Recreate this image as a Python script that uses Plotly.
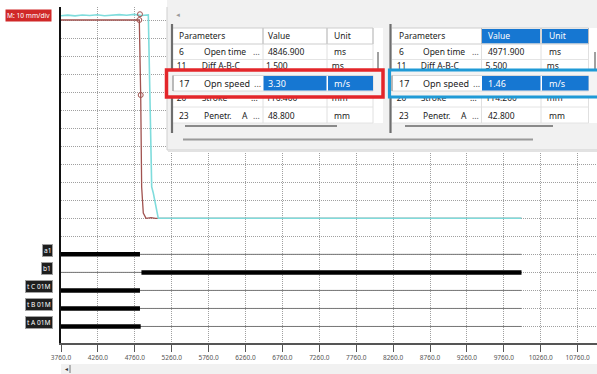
import plotly.graph_objects as go

# ---------------- data ----------------
x_ticks = [3760, 4260, 4760, 5260, 5760, 6260, 6760, 7260, 7760, 8260, 8760, 9260, 9760, 10260, 10760]
x_tick_labels = ["3760.0", "4260.0", "4760.0", "5260.0", "5760.0", "6260.0", "6760.0", "7260.0",
                 "7760.0", "8260.0", "8760.0", "9260.0", "9760.0", "10260.0", "10760.0"]

# analog travel traces (ms, mm)
brown_t = [3760, 4100, 4400, 4700, 4821, 4840, 4853, 4875, 4912, 4980, 5040, 10000]
brown_mm = [110.0, 110.1, 110.0, 110.1, 110.0, 68.4, 17.4, 2.9, 0.0, 0.4, 0.0, 0.0]
cyan_t = [3760, 3850, 3950, 4050, 4150, 4250, 4350, 4450, 4550, 4650, 4750, 4850, 4943,
          4966, 4989, 5011, 5078, 10000]
cyan_mm = [112.4, 112.7, 112.3, 112.8, 112.5, 112.9, 112.4, 112.7, 113.0, 112.6, 113.1, 112.5, 112.8,
           65.6, 17.4, 14.0, 0.0, 0.0]
marker_t = [4830, 4821, 4840]
marker_mm = [113.2, 110.0, 68.4]
grid_mm = [110, 100, 90, 80, 70, 60, 50, 40, 30, 20, 10, 0, -10]

# digital channels
channels = ["a1", "b1", "t C 01M", "t B 01M", "t A 01M"]
channel_mm = [-20, -30, -40, -50, -60]
channel_on_start = [3760, 4850, 3760, 3760, 3760]
channel_on_end = [4830, 10000, 4830, 4830, 4840]
record_start = 3760
record_end = 10000

# parameter tables
param_no = ["6", "11", "17", "20", "23"]
param_name = ["Open time", "Diff A-B-C", "Opn speed", "Stroke", "Penetr."]
param_unit = ["ms", "ms", "m/s", "mm", "mm"]
values_red = ["4846.900", "1.500", "3.30", "116.400", "48.800"]
values_blue = ["4971.900", "5.500", "1.46", "114.200", "42.800"]
scale_label = "M: 10 mm/div"

# ---------------- geometry helpers ----------------
PL, PR, PT, PB = 61, 597, 7, 343
MS_PER_PX = 500 / 36.9
ZERO_PX = 218.3
PX_PER_MM = 1.8027


def xd(px):
    return x_ticks[0] + (px - PL) * MS_PER_PX


def yd(py):
    return (ZERO_PX - py) / PX_PER_MM


def pxp(px):
    return (px - PL) / (PR - PL)


def pyp(py):
    return (PB - py) / (PB - PT)


shapes = []


def rect(x0, y0, x1, y1, fill, line=None, lw=0, layer="between"):
    shapes.append(dict(type="rect", xref="x", yref="y", x0=xd(x0), x1=xd(x1), y0=yd(y1), y1=yd(y0),
                       fillcolor=fill, line=dict(color=line or fill, width=lw), layer=layer))


def seg(x0, y0, x1, y1, color, w=1, layer="between"):
    shapes.append(dict(type="line", xref="x", yref="y", x0=xd(x0), x1=xd(x1), y0=yd(y0), y1=yd(y1),
                       line=dict(color=color, width=w), layer=layer))


annotations = []
FONT = "Noto Sans"


def txt(px, py, s, size=8.5, color="#222", anchor="left"):
    annotations.append(dict(x=xd(px), y=yd(py), xref="x", yref="y", text=s, showarrow=False,
                            xanchor=anchor, yanchor="middle",
                            font=dict(family=FONT, size=size, color=color)))


fig = go.Figure()

# analog traces
fig.add_trace(go.Scatter(x=brown_t, y=brown_mm, mode="lines", line=dict(color="#a0524f", width=1.3),
                         hoverinfo="skip"))
fig.add_trace(go.Scatter(x=cyan_t, y=cyan_mm, mode="lines", line=dict(color="#7fdcdc", width=1.6),
                         hoverinfo="skip"))
fig.add_trace(go.Scatter(x=marker_t, y=marker_mm, mode="markers",
                         marker=dict(symbol="circle-open", size=5, color="#a0524f", line=dict(width=1)),
                         hoverinfo="skip"))

# digital channels
for name, yv, s, e in zip(channels, channel_mm, channel_on_start, channel_on_end):
    fig.add_trace(go.Scatter(x=[record_start, record_end], y=[yv, yv], mode="lines",
                             line=dict(color="#777777", width=1), hoverinfo="skip"))
    fig.add_trace(go.Scatter(x=[s, e], y=[yv, yv], mode="lines",
                             line=dict(color="#000000", width=4.5), hoverinfo="skip"))
    annotations.append(dict(x=pxp(53), y=yv, xref="paper", yref="y", yshift=4, text=name,
                            showarrow=False, xanchor="right", yanchor="middle",
                            bgcolor="#1e1e1e", bordercolor="#a0a0a0", borderwidth=1, borderpad=1,
                            font=dict(family=FONT, size=6.6, color="white")))

# ---------------- overlay panel ----------------
rect(167, 0, 602, 150, "#f1f1f1", "#cfcfcf", 1)
seg(168, 151, 597, 151, "#e2e2e2", 2)

tables = [
    dict(left=173, right=383, c1=263, c2=327, c3=373, no=176.7, name=201.7, dots=251, val=266,
         unit=331.7, border=172, vscroll=378, hs=(185, 337), values=values_red, blue_head=False),
    dict(left=392, right=602, c1=481.5, c2=541, c3=588.5, no=396.7, name=420.7, dots=470, val=485.5,
         unit=546.7, border=390.5, vscroll=595, hs=(405, 553), values=values_blue, blue_head=True),
]
row_y = [51.7, 67.2, 83.0, 98.8, 115.0]
BLUE = "#1677d2"

for t in tables:
    rect(t["left"], 28, t["right"], 123, "white")
    if t["blue_head"]:
        rect(t["c1"] + 0.5, 29, t["c2"] - 1, 43.5, BLUE)
        rect(t["c2"] + 1, 29, t["c3"], 43.5, BLUE)
    for yy in (28, 44):
        seg(t["left"], yy, t["c3"], yy, "#cdcdcd", 1)
    for yy in (59.5, 107, 123):
        seg(t["left"], yy, t["c3"], yy, "#e4e4e4", 1)
    for xx in (t["c1"], t["c2"], t["c3"]):
        seg(xx, 28, xx, 123, "#e0e0e0", 1)
        seg(xx, 28, xx, 44, "#bdbdbd", 1)
    seg(t["border"], 24, t["border"], 133, "#6e6e6e", 2.2)
    seg(t["vscroll"], 52, t["vscroll"], 70, "#808080", 1.5)
    seg(t["hs"][0], 126, t["hs"][1], 126, "#8a8a8a", 2)

    hc = "white" if t["blue_head"] else "#222"
    txt(t["no"], 35.7, "Parameters")
    txt(t["val"], 35.7, "Value", color=hc)
    txt(t["unit"], 35.7, "Unit", color=hc)

    for i in (0, 4):
        txt(t["no"], row_y[i], param_no[i])
        txt(t["name"], row_y[i], param_name[i])
        if i == 4:
            txt(t["dots"] - 11, row_y[i], "A")
        txt(t["dots"], row_y[i], "...", color="#555")
        txt(t["val"], row_y[i], t["values"][i])
        txt(t["unit"], row_y[i], param_unit[i])

    # partially hidden rows drawn as text traces so that the highlight boxes cover them
    for i in (1, 3):
        xs = [xd(t["no"]), xd(t["name"]), xd(t["val"]), xd(t["unit"])]
        ss = [param_no[i], param_name[i], t["values"][i], param_unit[i]]
        if i == 3:
            xs.append(xd(t["dots"]))
            ss.append("...")
        fig.add_trace(go.Scatter(x=xs, y=[yd(row_y[i])] * len(xs), mode="text", text=ss,
                                 textposition="middle right", cliponaxis=False,
                                 textfont=dict(family=FONT, size=8.5, color="#222"), hoverinfo="skip"))

seg(183, 139.5, 533, 139.5, "#9a9a9a", 2)
txt(173, 15, "◄", size=6, color="#9a9a9a")

# highlight boxes (above the partial rows)
boxes = [
    dict(x0=166.5, x1=383, color="#e3262a", lw=3.5, t=tables[0]),
    dict(x0=389.5, x1=606, color="#1f9ad6", lw=3.2, t=tables[1]),
]
for b in boxes:
    t = b["t"]
    rect(b["x0"], 70, b["x1"], 97, "#f4f4f4", b["color"], b["lw"], layer="above")
    rect(t["left"], 75.5, t["c3"], 91, "white", "#d8d8d8", 1, layer="above")
    seg(t["left"], 75.5, t["left"], 91, "#8a8a8a", 1, layer="above")
    rect(t["c1"] + 0.5, 76, t["c2"] - 0.5, 90.5, BLUE, layer="above")
    rect(t["c2"] + 1, 76, t["c3"], 90.5, BLUE, layer="above")
    txt(t["no"], 83, param_no[2], size=9)
    txt(t["name"], 83, param_name[2], size=9)
    txt(t["dots"] + 1, 83, "...", size=9, color="#555")
    txt(t["val"], 83, t["values"][2], size=9, color="white")
    txt(t["unit"], 83, param_unit[2], size=9, color="white")

# paper-level decorations
shapes.append(dict(type="rect", xref="paper", yref="paper", x0=pxp(167), x1=1, y0=pyp(7), y1=pyp(0),
                   fillcolor="#f1f1f1", line=dict(width=0), layer="above"))
shapes.append(dict(type="rect", xref="paper", yref="paper", x0=0, x1=1, y0=pyp(374), y1=pyp(364),
                   fillcolor="#f1f1f1", line=dict(width=0), layer="above"))
shapes.append(dict(type="line", xref="paper", yref="paper", x0=pxp(70), x1=pxp(70), y0=pyp(373),
                   y1=pyp(365), line=dict(color="#777", width=1), layer="above"))
annotations.append(dict(x=pxp(66), y=pyp(369), xref="paper", yref="paper", text="◄", showarrow=False,
                        xanchor="center", yanchor="middle", font=dict(family=FONT, size=5, color="#333")))
annotations.append(dict(x=pxp(5), y=pyp(15.8), xref="paper", yref="paper", text=scale_label,
                        showarrow=False, xanchor="left", yanchor="middle", bgcolor="#d02828",
                        borderpad=1, font=dict(family=FONT, size=6.6, color="white")))

fig.update_layout(
    width=597, height=374, margin=dict(l=PL, r=0, t=PT, b=374 - PB),
    paper_bgcolor="white", plot_bgcolor="white", showlegend=False,
    font=dict(family=FONT), shapes=shapes, annotations=annotations,
)
fig.update_xaxes(range=[xd(PL), xd(PR)], tickvals=x_ticks, ticktext=x_tick_labels,
                 showgrid=True, gridcolor="#a0a0a0", griddash="1px,1px", gridwidth=1,
                 showline=True, linecolor="#555", linewidth=1.5, ticks="outside", ticklen=7,
                 tickcolor="#555", tickwidth=1, tickfont=dict(family=FONT, size=6.5, color="#555"),
                 zeroline=False)
fig.update_yaxes(range=[yd(PB), yd(PT)], tickvals=grid_mm + channel_mm, showticklabels=False,
                 showgrid=True, gridcolor="#a0a0a0", griddash="1px,1px", gridwidth=1,
                 showline=True, linecolor="#111", linewidth=2, ticks="", zeroline=False)

fig.write_html("out.html", config={"displayModeBar": False},
               post_script="document.body.style.margin='0';document.body.style.overflow='hidden';")
